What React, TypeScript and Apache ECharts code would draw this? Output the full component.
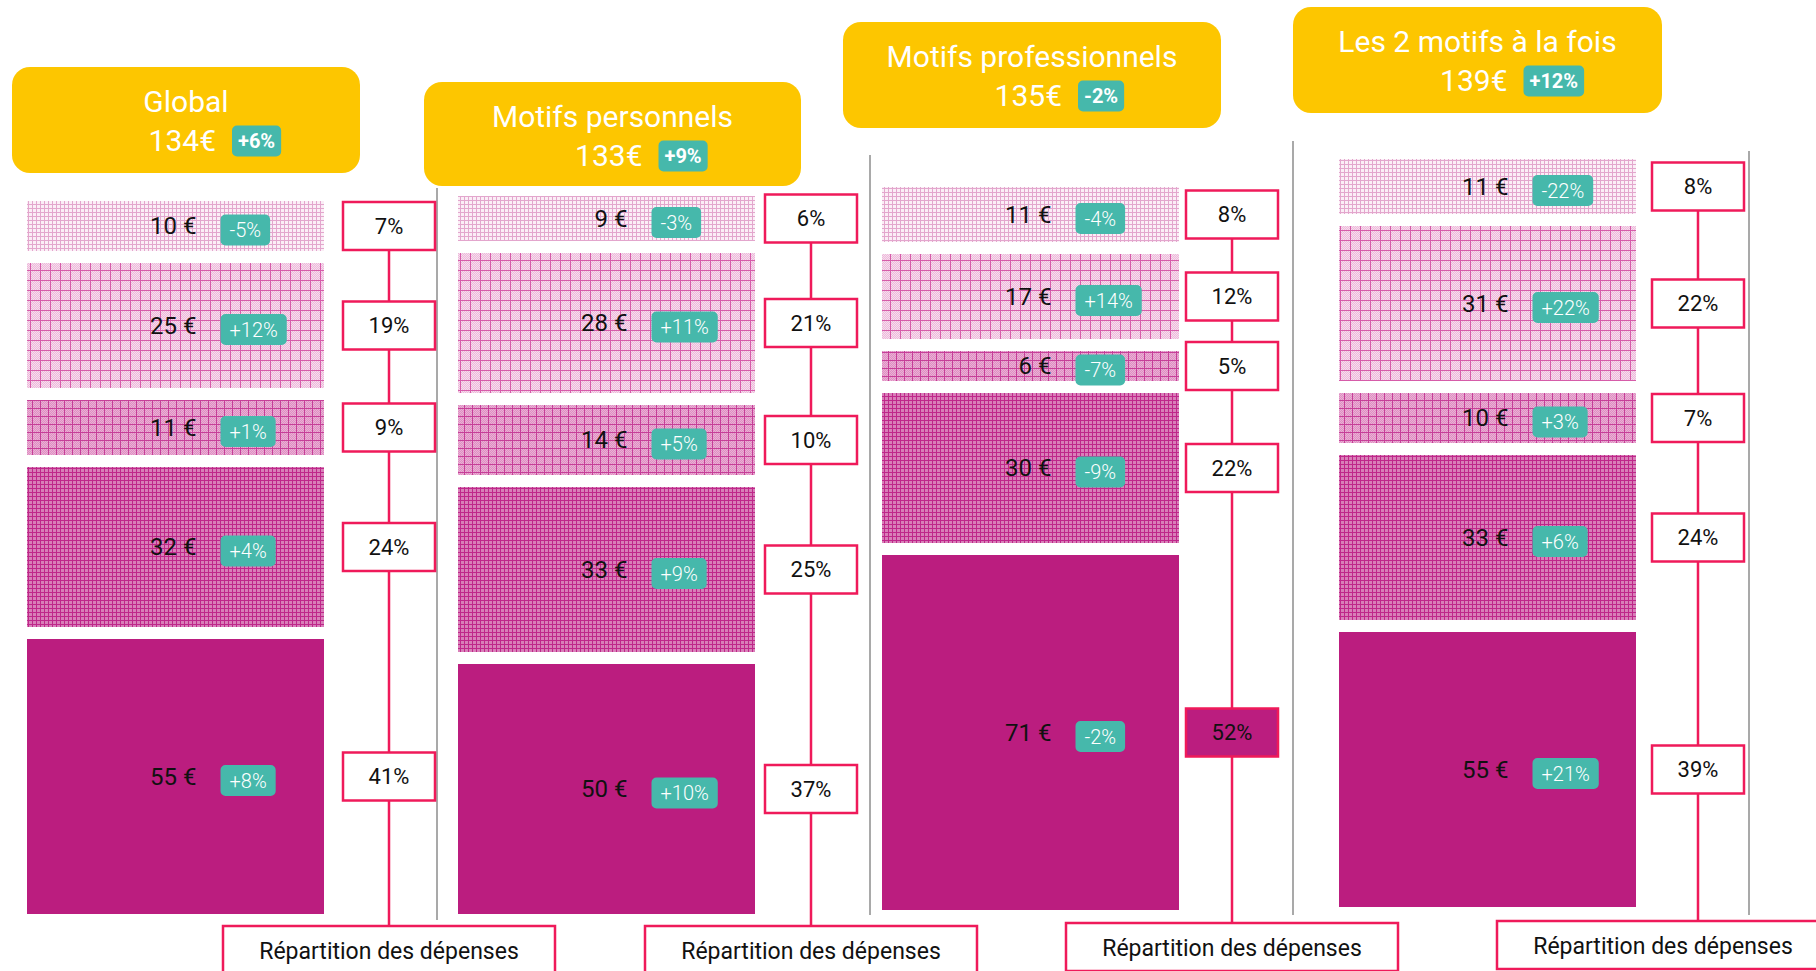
import React, { useEffect, useRef } from "react";
import * as echarts from "echarts";

// ---------- data ----------
const panelTitles = ["Global", "Motifs personnels", "Motifs professionnels", "Les 2 motifs à la fois"];
const panelTotals = [134, 133, 135, 139];
const panelTotalChanges = ["+6%", "+9%", "-2%", "+12%"];

const globalValues = [10, 25, 11, 32, 55];
const globalChanges = ["-5%", "+12%", "+1%", "+4%", "+8%"];
const globalShares = ["7%", "19%", "9%", "24%", "41%"];

const personalValues = [9, 28, 14, 33, 50];
const personalChanges = ["-3%", "+11%", "+5%", "+9%", "+10%"];
const personalShares = ["6%", "21%", "10%", "25%", "37%"];

const professionalValues = [11, 17, 6, 30, 71];
const professionalChanges = ["-4%", "+14%", "-7%", "-9%", "-2%"];
const professionalShares = ["8%", "12%", "5%", "22%", "52%"];

const bothValues = [11, 31, 10, 33, 55];
const bothChanges = ["-22%", "+22%", "+3%", "+6%", "+21%"];
const bothShares = ["8%", "22%", "7%", "24%", "39%"];

const footLabel = "Répartition des dépenses";
const highlightedPanel = 2;
const highlightedBlock = 4;

const panelValues = [globalValues, personalValues, professionalValues, bothValues];
const panelChanges = [globalChanges, personalChanges, professionalChanges, bothChanges];
const panelShares = [globalShares, personalShares, professionalShares, bothShares];

// ---------- layout & style ----------
const W = 1816;
const H = 971;
const PX_PER_EURO = 5.0;
const Y_MAX = 160;
const GAP = 12;
const BLOCK_W = 297;
const FONT = "Roboto";
const YELLOW = "#fdc600";
const TEAL = "#46b8ab";
const RED = "#ef1a5a";
const MAGENTA = "#bb1d7f";
const GREY = "#8c8c8c";

const layout = [
  { left: 27, bottom: 914, lineX: 389, header: { x: 12, y: 67, w: 348, h: 106 }, foot: { x: 223, y: 926 } },
  { left: 458, bottom: 914, lineX: 811, header: { x: 424, y: 82, w: 377, h: 104 }, foot: { x: 645, y: 926 } },
  { left: 882, bottom: 910, lineX: 1232, header: { x: 843, y: 22, w: 378, h: 106 }, foot: { x: 1066, y: 923 } },
  { left: 1339, bottom: 907, lineX: 1698, header: { x: 1293, y: 7, w: 369, h: 106 }, foot: { x: 1497, y: 921 } },
];
const separators = [
  { x: 437, y1: 188, y2: 920 },
  { x: 870, y1: 155, y2: 915 },
  { x: 1293, y1: 141, y2: 915 },
  { x: 1749, y1: 151, y2: 915 },
];

function makePattern(size: number, bg: string, line: string, dot?: string) {
  const c = document.createElement("canvas");
  c.width = size;
  c.height = size;
  const ctx = c.getContext("2d")!;
  ctx.fillStyle = bg;
  ctx.fillRect(0, 0, size, size);
  if (dot) {
    ctx.fillStyle = dot;
    for (let x = 1; x < size; x++) {
      for (let y = 1; y < size; y++) {
        if ((x + y) % 2 === 0) ctx.fillRect(x, y, 1, 1);
      }
    }
  }
  ctx.fillStyle = line;
  ctx.fillRect(0, 0, size, 1);
  ctx.fillRect(0, 0, 1, size);
  return { image: c, repeat: "repeat", imageWidth: size, imageHeight: size } as any;
}

export default function App() {
  const ref = useRef<HTMLDivElement>(null);

  useEffect(() => {
    document.body.style.margin = "0";
    if (!ref.current) return;
    const chart = echarts.init(ref.current, null, { renderer: "svg", width: W, height: H });

    const fills: any[] = [
      makePattern(4, "#fbeef6", "#e3a6cd"),
      makePattern(10, "#edb9da", "#d65ca9", "#f7ddee"),
      makePattern(8, "#df8ec2", "#c63f98", "#eab0d5"),
      makePattern(4, "#d87fb8", "#bf278a"),
      MAGENTA,
    ];

    const grids: any[] = [];
    const xAxes: any[] = [];
    const yAxes: any[] = [];
    const series: any[] = [];
    const graphics: any[] = [];

    layout.forEach((L, k) => {
      const gh = Y_MAX * PX_PER_EURO;
      grids.push({ left: L.left, top: L.bottom - gh, width: BLOCK_W, height: gh });
      xAxes.push({ gridIndex: k, type: "category", data: [panelTitles[k]], show: false });
      yAxes.push({ gridIndex: k, type: "value", min: 0, max: Y_MAX, show: false });

      const vals = panelValues[k];
      const changes = panelChanges[k];
      const shares = panelShares[k];
      const n = vals.length;

      series.push({
        type: "custom",
        xAxisIndex: k,
        yAxisIndex: k,
        clip: false,
        silent: true,
        data: vals.map((v) => [0, v]),
        renderItem: (params: any, api: any) => {
          const i = params.dataIndex;
          const v = api.value(1);
          let below = 0;
          for (let j = i + 1; j < n; j++) below += vals[j];
          const shift = (n - 1 - i) * GAP;
          const topPt = api.coord([0, below + v]);
          const botPt = api.coord([0, below]);
          const band = api.size([1, 0])[0];
          const x0 = topPt[0] - band / 2;
          const y0 = topPt[1] - shift;
          const y1 = botPt[1] - shift;
          const cx = topPt[0];
          const cy = (y0 + y1) / 2;
          const hl = k === highlightedPanel && i === highlightedBlock;
          const children: any[] = [
            {
              type: "rect",
              shape: { x: x0, y: y0, width: band, height: y1 - y0 },
              style: { fill: fills[i] },
              z2: 1,
            },
            {
              type: "text",
              x: cx + 21,
              y: cy,
              style: {
                text: v + " €",
                align: "right",
                verticalAlign: "middle",
                fill: "#111",
                fontSize: 24,
                fontFamily: FONT,
              },
              z2: 5,
            },
            {
              type: "text",
              x: cx + 45,
              y: cy + 4,
              style: {
                text: changes[i],
                align: "left",
                verticalAlign: "middle",
                fill: "#fff",
                fontSize: 20,
                fontFamily: FONT,
                fontWeight: 300,
                backgroundColor: TEAL,
                padding: [6, 9, 5, 9],
                borderRadius: 5,
              },
              z2: 5,
            },
            {
              type: "rect",
              shape: { x: L.lineX - 46, y: cy - 24, width: 92, height: 48 },
              style: { fill: hl ? MAGENTA : "#fff", stroke: RED, lineWidth: 2.5 },
              z2: 10,
            },
            {
              type: "text",
              x: L.lineX,
              y: cy,
              style: {
                text: shares[i],
                align: "center",
                verticalAlign: "middle",
                fill: "#111",
                fontSize: 22,
                fontFamily: FONT,
              },
              z2: 11,
            },
          ];
          if (i === 0) {
            children.push({
              type: "line",
              shape: { x1: L.lineX, y1: cy, x2: L.lineX, y2: L.foot.y },
              style: { stroke: RED, lineWidth: 2.5 },
              z2: 2,
            });
          }
          return { type: "group", children };
        },
      });

      // header
      const hd = L.header;
      const hcx = hd.x + hd.w / 2;
      graphics.push({
        type: "rect",
        shape: { x: hd.x, y: hd.y, width: hd.w, height: hd.h, r: 18 },
        style: { fill: YELLOW },
      });
      graphics.push({
        type: "text",
        x: hcx,
        y: hd.y + 34,
        style: {
          text: panelTitles[k],
          align: "center",
          verticalAlign: "middle",
          fill: "#fff",
          fontSize: 30,
          fontFamily: FONT,
        },
      });
      graphics.push({
        type: "text",
        x: hcx + 30,
        y: hd.y + 73,
        style: {
          text: panelTotals[k] + "€",
          align: "right",
          verticalAlign: "middle",
          fill: "#fff",
          fontSize: 30,
          fontFamily: FONT,
        },
      });
      graphics.push({
        type: "text",
        x: hcx + 46,
        y: hd.y + 74,
        style: {
          text: panelTotalChanges[k],
          align: "left",
          verticalAlign: "middle",
          fill: "#fff",
          fontSize: 20,
          fontWeight: "bold",
          fontFamily: FONT,
          backgroundColor: TEAL,
          padding: [6, 6, 5, 6],
          borderRadius: 5,
        },
      });

      // footer box
      graphics.push({
        type: "rect",
        shape: { x: L.foot.x, y: L.foot.y, width: 332, height: 48 },
        style: { fill: "#fff", stroke: RED, lineWidth: 2.5 },
      });
      graphics.push({
        type: "text",
        x: L.foot.x + 166,
        y: L.foot.y + 25,
        style: {
          text: footLabel,
          align: "center",
          verticalAlign: "middle",
          fill: "#111",
          fontSize: 23,
          fontFamily: FONT,
        },
      });
    });

    separators.forEach((s) => {
      graphics.push({
        type: "line",
        shape: { x1: s.x, y1: s.y1, x2: s.x, y2: s.y2 },
        style: { stroke: GREY, lineWidth: 1.5 },
      });
    });

    chart.setOption({
      animation: false,
      backgroundColor: "#fff",
      grid: grids,
      xAxis: xAxes,
      yAxis: yAxes,
      series,
      graphic: graphics,
    });

    return () => chart.dispose();
  }, []);

  return <div ref={ref} style={{ width: W, height: H, position: "absolute", left: 0, top: 0 }} />;
}
